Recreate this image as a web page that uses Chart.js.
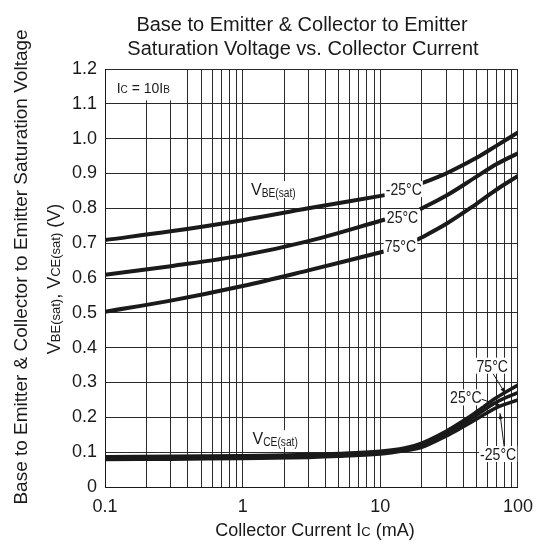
<!DOCTYPE html>
<html><head><meta charset="utf-8">
<script src="https://cdn.jsdelivr.net/npm/chart.js@4"></script>
<style>html,body{margin:0;padding:0;background:#fff;}#wrap{width:542px;height:545px;}</style>
</head><body><div id="wrap"><canvas id="c" width="542" height="545"></canvas></div>
<script>
// ---- tick labels ----
const xTickLabels = ['0.1', '1', '10', '100'];
const yTickLabels = ['0', '0.1', '0.2', '0.3', '0.4', '0.5', '0.6', '0.7', '0.8', '0.9', '1.0', '1.1', '1.2'];
const gridDecades = [0.1, 1, 10];
const gridMultipliers = [1, 2, 3, 4, 5, 6, 7, 8, 9];

// ---- VBE(sat) series (mA, V); null = label gap ----
const vbeM25Current = [0.1, 0.3, 1, 3, 10.8, 15, 20, 30, 50, 70, 100];
const vbeM25Volt    = [0.709, 0.734, 0.766, 0.800, 0.838, null, 0.872, 0.900, 0.945, 0.980, 1.018];
const vbe25Current  = [0.1, 0.3, 1, 3, 10.8, 15, 19.4, 30, 50, 70, 100];
const vbe25Volt     = [0.609, 0.634, 0.665, 0.706, 0.768, null, 0.797, 0.836, 0.891, 0.927, 0.958];
const vbe75Current  = [0.1, 0.3, 1, 3, 10.6, 14, 18.4, 30, 50, 70, 100];
const vbe75Volt     = [0.503, 0.535, 0.577, 0.622, 0.676, null, 0.709, 0.755, 0.813, 0.854, 0.893];

// ---- VCE(sat) series ----
const vceCurrent = [0.1, 0.3, 1, 3, 5, 10, 15, 20, 30, 40, 50, 70, 100];
const vce75Volt  = [0.087, 0.088, 0.090, 0.093, 0.096, 0.103, 0.112, 0.126, 0.160, 0.190, 0.216, 0.257, 0.293];
const vce25Volt  = [0.083, 0.084, 0.086, 0.089, 0.092, 0.099, 0.108, 0.120, 0.153, 0.182, 0.206, 0.244, 0.271];
const vceM25Volt = [0.079, 0.080, 0.082, 0.085, 0.088, 0.095, 0.104, 0.114, 0.146, 0.173, 0.195, 0.228, 0.250];

const FONT = '"Liberation Sans", Arial, Helvetica, sans-serif';
const INK = '#1a1a1a';

function pts(xs, ys) { return xs.map((x, i) => ({ x: x, y: ys[i] })); }
function ds(label, xs, ys, w) {
  return { label: label, data: pts(xs, ys), borderColor: INK, borderWidth: w, pointRadius: 0,
           fill: false, tension: 0.35, spanGaps: false, borderCapStyle: 'butt' };
}

const gridTicks = [];
gridDecades.forEach(d => gridMultipliers.forEach(m => gridTicks.push(parseFloat((d * m).toPrecision(3)))));
gridTicks.push(100);
const xMajor = xTickLabels.map(parseFloat);

// draw a run of text parts: [text, size, dy, sx]
function rich(ctx, parts, x, y, align, bg) {
  let total = 0;
  const ws = parts.map(p => { ctx.font = p[1] + 'px ' + FONT; const w = ctx.measureText(p[0]).width * (p[3] || 1); total += w; return w; });
  let x0 = align === 'center' ? x - total / 2 : (align === 'right' ? x - total : x);
  if (bg) {
    const h = parts[0][1];
    ctx.fillStyle = '#fff';
    ctx.fillRect(x0 - bg[0], y - h * 0.75 - bg[1], total + bg[0] + bg[2], h * 0.75 + bg[1] + bg[3]);
  }
  ctx.fillStyle = INK;
  ctx.textBaseline = 'alphabetic';
  ctx.textAlign = 'left';
  let cx = x0;
  parts.forEach((p, i) => {
    ctx.save();
    ctx.font = p[1] + 'px ' + FONT;
    ctx.translate(cx, y + (p[2] || 0));
    ctx.scale(p[3] || 1, 1);
    ctx.fillText(p[0], 0, 0);
    ctx.restore();
    cx += ws[i];
  });
  return { left: x0, right: x0 + total };
}

function arrow(ctx, x1, y1, x2, y2) {
  ctx.save();
  ctx.strokeStyle = INK; ctx.fillStyle = INK; ctx.lineWidth = 1;
  ctx.beginPath(); ctx.moveTo(x1, y1); ctx.lineTo(x2, y2); ctx.stroke();
  const a = Math.atan2(y2 - y1, x2 - x1), L = 6, W = 2;
  ctx.beginPath();
  ctx.moveTo(x2, y2);
  ctx.lineTo(x2 - L * Math.cos(a) + W * Math.sin(a), y2 - L * Math.sin(a) - W * Math.cos(a));
  ctx.lineTo(x2 - L * Math.cos(a) - W * Math.sin(a), y2 - L * Math.sin(a) + W * Math.cos(a));
  ctx.closePath(); ctx.fill();
  ctx.restore();
}

const textPlugin = {
  id: 'texts',
  afterDraw(chart) {
    const ctx = chart.ctx, X = chart.scales.x, Y = chart.scales.y, ca = chart.chartArea;
    const px = v => X.getPixelForValue(v), py = v => Y.getPixelForValue(v);
    const tl = 0.88;
    ctx.save();
    // title
    rich(ctx, [['Base to Emitter & Collector to Emitter', 20]], 302, 31, 'center');
    rich(ctx, [['Saturation Voltage vs. Collector Current', 20]], 303, 55, 'center');
    // x title
    rich(ctx, [['Collector Current I', 18], ['C', 13, 0], [' (mA)', 18]], 315, 536, 'center');
    // y titles
    ctx.save(); ctx.translate(27, 267); ctx.rotate(-Math.PI / 2);
    rich(ctx, [['Base to Emitter & Collector to Emitter Saturation Voltage', 19]], 0, 0, 'center');
    ctx.restore();
    ctx.save(); ctx.translate(60, 279); ctx.rotate(-Math.PI / 2);
    rich(ctx, [['V', 18], ['BE(sat)', 13, 0], [', V', 18], ['CE(sat)', 13, 0], [' (V)', 18]], 0, 0, 'center');
    ctx.restore();

    // condition box
    const bx = px(0.1215), by = py(1.130);
    const r = rich(ctx, [['I', 14], ['C', 10, 0], [' = 10I', 14], ['B', 10, 0]], bx, by, 'left', [0, 0, 0, 0]);
    ctx.fillStyle = '#fff';
    ctx.fillRect(ca.left + 1, ca.top + 1, r.right + 2 - ca.left - 1, by + 7 - ca.top - 1);
    rich(ctx, [['I', 14], ['C', 10, 0], [' = 10I', 14], ['B', 10, 0]], bx, by, 'left');

    // series labels
    rich(ctx, [['V', 16], ['BE(sat)', 12, 1.5, 0.85]], px(1.15), py(0.838), 'left', [1, 2, 1, 3]);
    rich(ctx, [['V', 16], ['CE(sat)', 12, 1.5, 0.85]], px(1.18), py(0.123), 'left', [1, 2, 1, 3]);

    // VBE temperature labels
    rich(ctx, [['-25°C', 16, 0, tl]], px(14.8), py(0.838), 'center', [1, 2, 1, 2]);
    rich(ctx, [['25°C', 16, 0, tl]], px(14.5), py(0.757), 'center', [1, 2, 1, 2]);
    rich(ctx, [['75°C', 16, 0, tl]], px(14.0), py(0.676), 'center', [1, 2, 1, 2]);

    // VCE temperature labels + leaders
    rich(ctx, [['75°C', 16, 0, tl]], px(65.0), py(0.331), 'center', [1, 2, 1, 2]);
    rich(ctx, [['25°C', 16, 0, tl]], px(41.8), py(0.240), 'center', [1, 2, 1, 2]);
    rich(ctx, [['-25°C', 16, 0, tl]], px(71.8), py(0.0775), 'center', [1, 2, 1, 2]);
    arrow(ctx, px(66), py(0.325), px(81), py(0.268));
    arrow(ctx, px(54.4), py(0.252), px(76), py(0.232));
    arrow(ctx, px(79.3), py(0.116), px(74), py(0.212));
    ctx.restore();
  }
};

new Chart(document.getElementById('c'), {
  type: 'line',
  data: {
    datasets: [
      ds('VBE -25°C', vbeM25Current, vbeM25Volt, 4),
      ds('VBE 25°C', vbe25Current, vbe25Volt, 4),
      ds('VBE 75°C', vbe75Current, vbe75Volt, 4),
      ds('VCE -25°C', vceCurrent, vceM25Volt, 3.5),
      ds('VCE 25°C', vceCurrent, vce25Volt, 3.5),
      ds('VCE 75°C', vceCurrent, vce75Volt, 3.5)
    ]
  },
  options: {
    responsive: false,
    animation: false,
    events: [],
    layout: { padding: { top: 69, right: 22, left: 0, bottom: 0 } },
    plugins: { legend: { display: false }, title: { display: false }, tooltip: { enabled: false } },
    scales: {
      x: {
        type: 'logarithmic', min: 0.1, max: 100,
        afterBuildTicks: s => { s.ticks = gridTicks.map(v => ({ value: v })); },
        afterFit: s => { s.height = 58; },
        grid: { color: '#2a2a2a', lineWidth: 1, drawTicks: false },
        border: { display: true, color: INK, width: 1 },
        ticks: {
          autoSkip: false, maxRotation: 0, padding: 9, color: INK,
          font: { family: FONT, size: 18 },
          callback: v => { const i = xMajor.findIndex(m => Math.abs(m - v) < 1e-9); return i >= 0 ? xTickLabels[i] : ''; }
        }
      },
      y: {
        type: 'linear', min: 0, max: 1.2,
        afterBuildTicks: s => { s.ticks = yTickLabels.map(t => ({ value: parseFloat(t) })); },
        afterFit: s => { s.width = 105; },
        grid: { color: '#2a2a2a', lineWidth: 1, drawTicks: false },
        border: { display: true, color: INK, width: 1 },
        ticks: {
          autoSkip: false, padding: 8, color: INK,
          font: { family: FONT, size: 18 },
          callback: (v, i) => yTickLabels[i]
        }
      }
    }
  },
  plugins: [textPlugin]
});
</script></body></html>
